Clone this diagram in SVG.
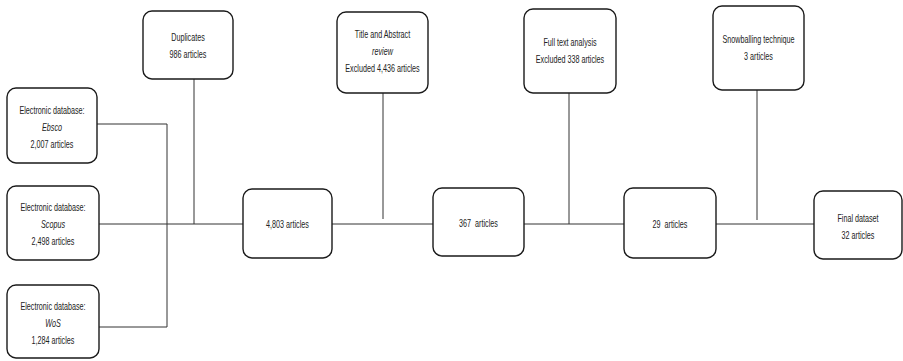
<svg xmlns="http://www.w3.org/2000/svg" width="903" height="361" viewBox="0 0 903 361">
<style>
.box{fill:#fff;stroke:#1a1a1a;stroke-width:1.4}
.t{font-family:"Liberation Sans",Arial,sans-serif;font-size:10px;fill:#222;text-anchor:middle}
.i{font-style:italic}
.c{fill:none;stroke:#333;stroke-width:1}
</style>
<rect width="903" height="361" fill="#fff"/>
<g id="connectors">
<path class="c" d="M97,124 H167 V327"/>
<path class="c" d="M99,327 H167"/>
<path class="c" d="M99,224 H243"/>
<path class="c" d="M194,79 V224"/>
<path class="c" d="M332,224 H433"/>
<path class="c" d="M383,93 V219"/>
<path class="c" d="M524,224 H624"/>
<path class="c" d="M569,93 V224"/>
<path class="c" d="M716,224 H814"/>
<path class="c" d="M757,90 V220"/>
</g>
<g id="ebsco">
<rect class="box" x="7" y="88" width="90" height="75" rx="9"/>
<text class="t" transform="translate(52,114) scale(0.72,1)"><tspan x="0">Electronic database:</tspan><tspan class="i" x="0" dy="17">Ebsco</tspan><tspan x="0" dy="17">2,007 articles</tspan></text>
</g>
<g id="scopus">
<rect class="box" x="7" y="186" width="92" height="74" rx="9"/>
<text class="t" transform="translate(53,211) scale(0.72,1)"><tspan x="0">Electronic database:</tspan><tspan class="i" x="0" dy="17">Scopus</tspan><tspan x="0" dy="17">2,498 articles</tspan></text>
</g>
<g id="wos">
<rect class="box" x="7" y="285" width="92" height="73" rx="9"/>
<text class="t" transform="translate(53,310) scale(0.72,1)"><tspan x="0">Electronic database:</tspan><tspan class="i" x="0" dy="17">WoS</tspan><tspan x="0" dy="17">1,284 articles</tspan></text>
</g>
<g id="duplicates">
<rect class="box" x="143" y="11" width="90" height="68" rx="9"/>
<text class="t" transform="translate(188,41) scale(0.72,1)"><tspan x="0">Duplicates</tspan><tspan x="0" dy="17">986 articles</tspan></text>
</g>
<g id="n4803">
<rect class="box" x="243" y="189" width="89" height="69" rx="9"/>
<text class="t" transform="translate(287.5,228) scale(0.72,1)">4,803 articles</text>
</g>
<g id="titleabstract">
<rect class="box" x="337" y="12" width="91" height="81" rx="9"/>
<text class="t" transform="translate(382.5,38) scale(0.72,1)"><tspan x="0">Title and Abstract</tspan><tspan class="i" x="0" dy="17">review</tspan><tspan x="0" dy="17">Excluded 4,436 articles</tspan></text>
</g>
<g id="n367">
<rect class="box" x="433" y="188" width="91" height="68" rx="9"/>
<text class="t" style="white-space:pre" transform="translate(478.5,227) scale(0.72,1)">367  articles</text>
</g>
<g id="fulltext">
<rect class="box" x="524" y="9" width="92" height="84" rx="9"/>
<text class="t" transform="translate(570,46) scale(0.72,1)"><tspan x="0">Full text analysis</tspan><tspan x="0" dy="17">Excluded 338 articles</tspan></text>
</g>
<g id="n29">
<rect class="box" x="624" y="188" width="92" height="70" rx="9"/>
<text class="t" style="white-space:pre" transform="translate(670,228) scale(0.72,1)">29  articles</text>
</g>
<g id="snowballing">
<rect class="box" x="713" y="6" width="91" height="84" rx="9"/>
<text class="t" transform="translate(758.5,43) scale(0.72,1)"><tspan x="0">Snowballing technique</tspan><tspan x="0" dy="17">3 articles</tspan></text>
</g>
<g id="final">
<rect class="box" x="814" y="191" width="88" height="68" rx="9"/>
<text class="t" transform="translate(858,222) scale(0.72,1)"><tspan x="0">Final dataset</tspan><tspan x="0" dy="17">32 articles</tspan></text>
</g>
</svg>
